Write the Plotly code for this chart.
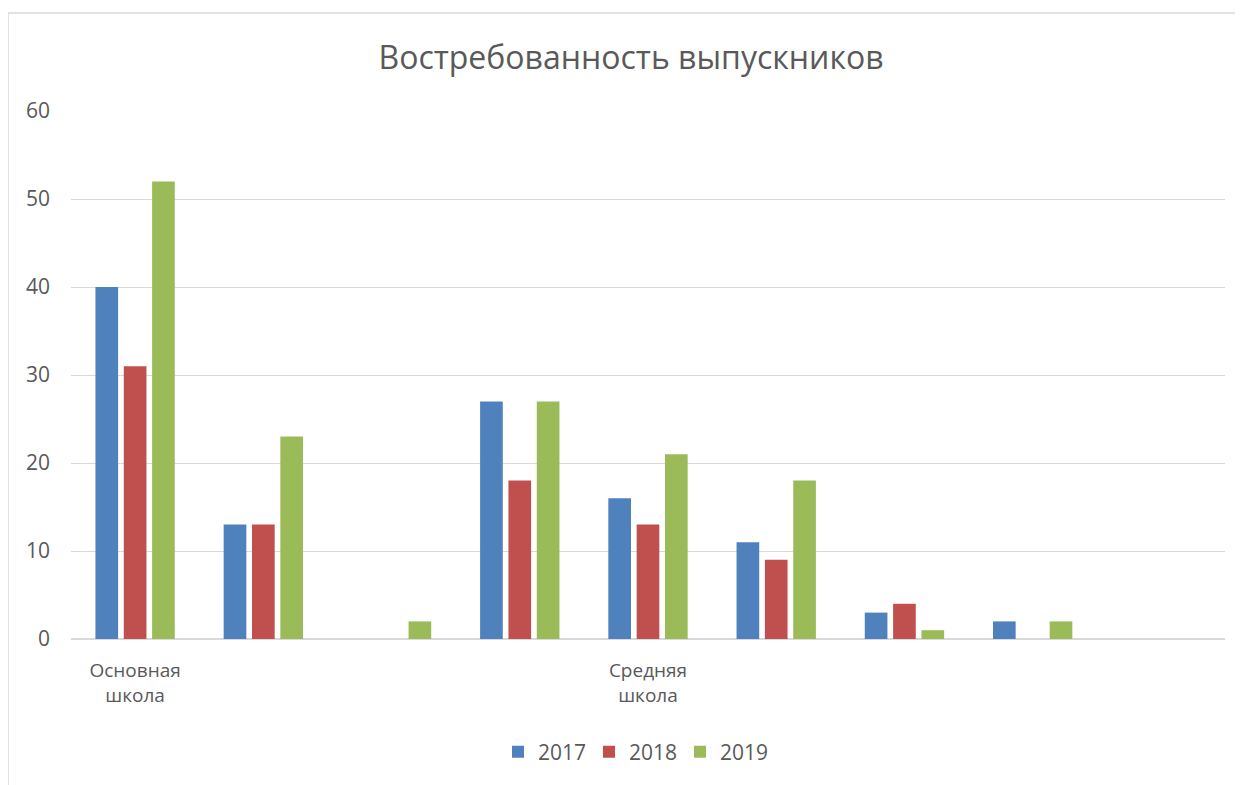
import plotly.graph_objects as go

positions = [0, 1, 2, 3, 4, 5, 6, 7, 8]
tick_positions = [0, 4]
tick_labels = ["Основная<br>школа", "Средняя<br>школа"]
years = ["2017", "2018", "2019"]
v2017 = [40, 13, None, 27, 16, 11, 3, 2, None]
v2018 = [31, 13, None, 18, 13, 9, 4, None, None]
v2019 = [52, 23, 2, 27, 21, 18, 1, 2, None]
colors = ["#4F81BD", "#C0504D", "#9BBB59"]

fig = go.Figure()
for name, vals, c in zip(years, [v2017, v2018, v2019], colors):
    fig.add_trace(go.Bar(x=positions, y=vals, name=name, marker_color=c,
                         marker_line_width=0))

font_fam = "'Open Sans', Lato, sans-serif"
W, H = 1235, 777
L, T, PW, PH = 63, 103, 1154, 528
fig.update_layout(
    width=W, height=H,
    margin=dict(l=L, r=W - L - PW, t=T, b=H - T - PH),
    paper_bgcolor="white", plot_bgcolor="white",
    barmode="group", bargap=0.337, bargroupgap=0.2,
    title=dict(text="Востребованность выпускников", x=623 / W, xanchor="center",
               y=1 - 50 / H, yanchor="middle",
               font=dict(family=font_fam, size=32, color="#595959")),
    font=dict(family=font_fam, size=20, color="#595959"),
    xaxis=dict(range=[-0.5, 8.5], tickvals=tick_positions, ticktext=tick_labels,
               showgrid=False, zeroline=False, showline=False, ticks="",
               ticklabelstandoff=18,
               tickfont=dict(size=19, color="#595959")),
    yaxis=dict(range=[0, 60], dtick=10, showgrid=True, gridcolor="#D9D9D9",
               gridwidth=1, zeroline=True, zerolinecolor="#D9D9D9", zerolinewidth=1.5,
               showline=False, ticks="", ticklabelstandoff=20,
               tickfont=dict(size=21, color="#595959")),
    legend=dict(orientation="h", x=(490 - L) / PW, xanchor="left",
                y=-(744 - T - PH) / PH, yanchor="middle",
                font=dict(size=21, color="#595959"), itemwidth=30,
                entrywidth=46, entrywidthmode="pixels",
                traceorder="normal"),
    shapes=[dict(type="rect", xref="paper", yref="paper",
                 x0=-(L - 0) / PW, x1=1.2, y0=-1, y1=(T + PH - 5) / PH,
                 line=dict(color="#D9D9D9", width=1.5), fillcolor="rgba(0,0,0,0)",
                 layer="below")],
)
fig.write_html("out.html")
